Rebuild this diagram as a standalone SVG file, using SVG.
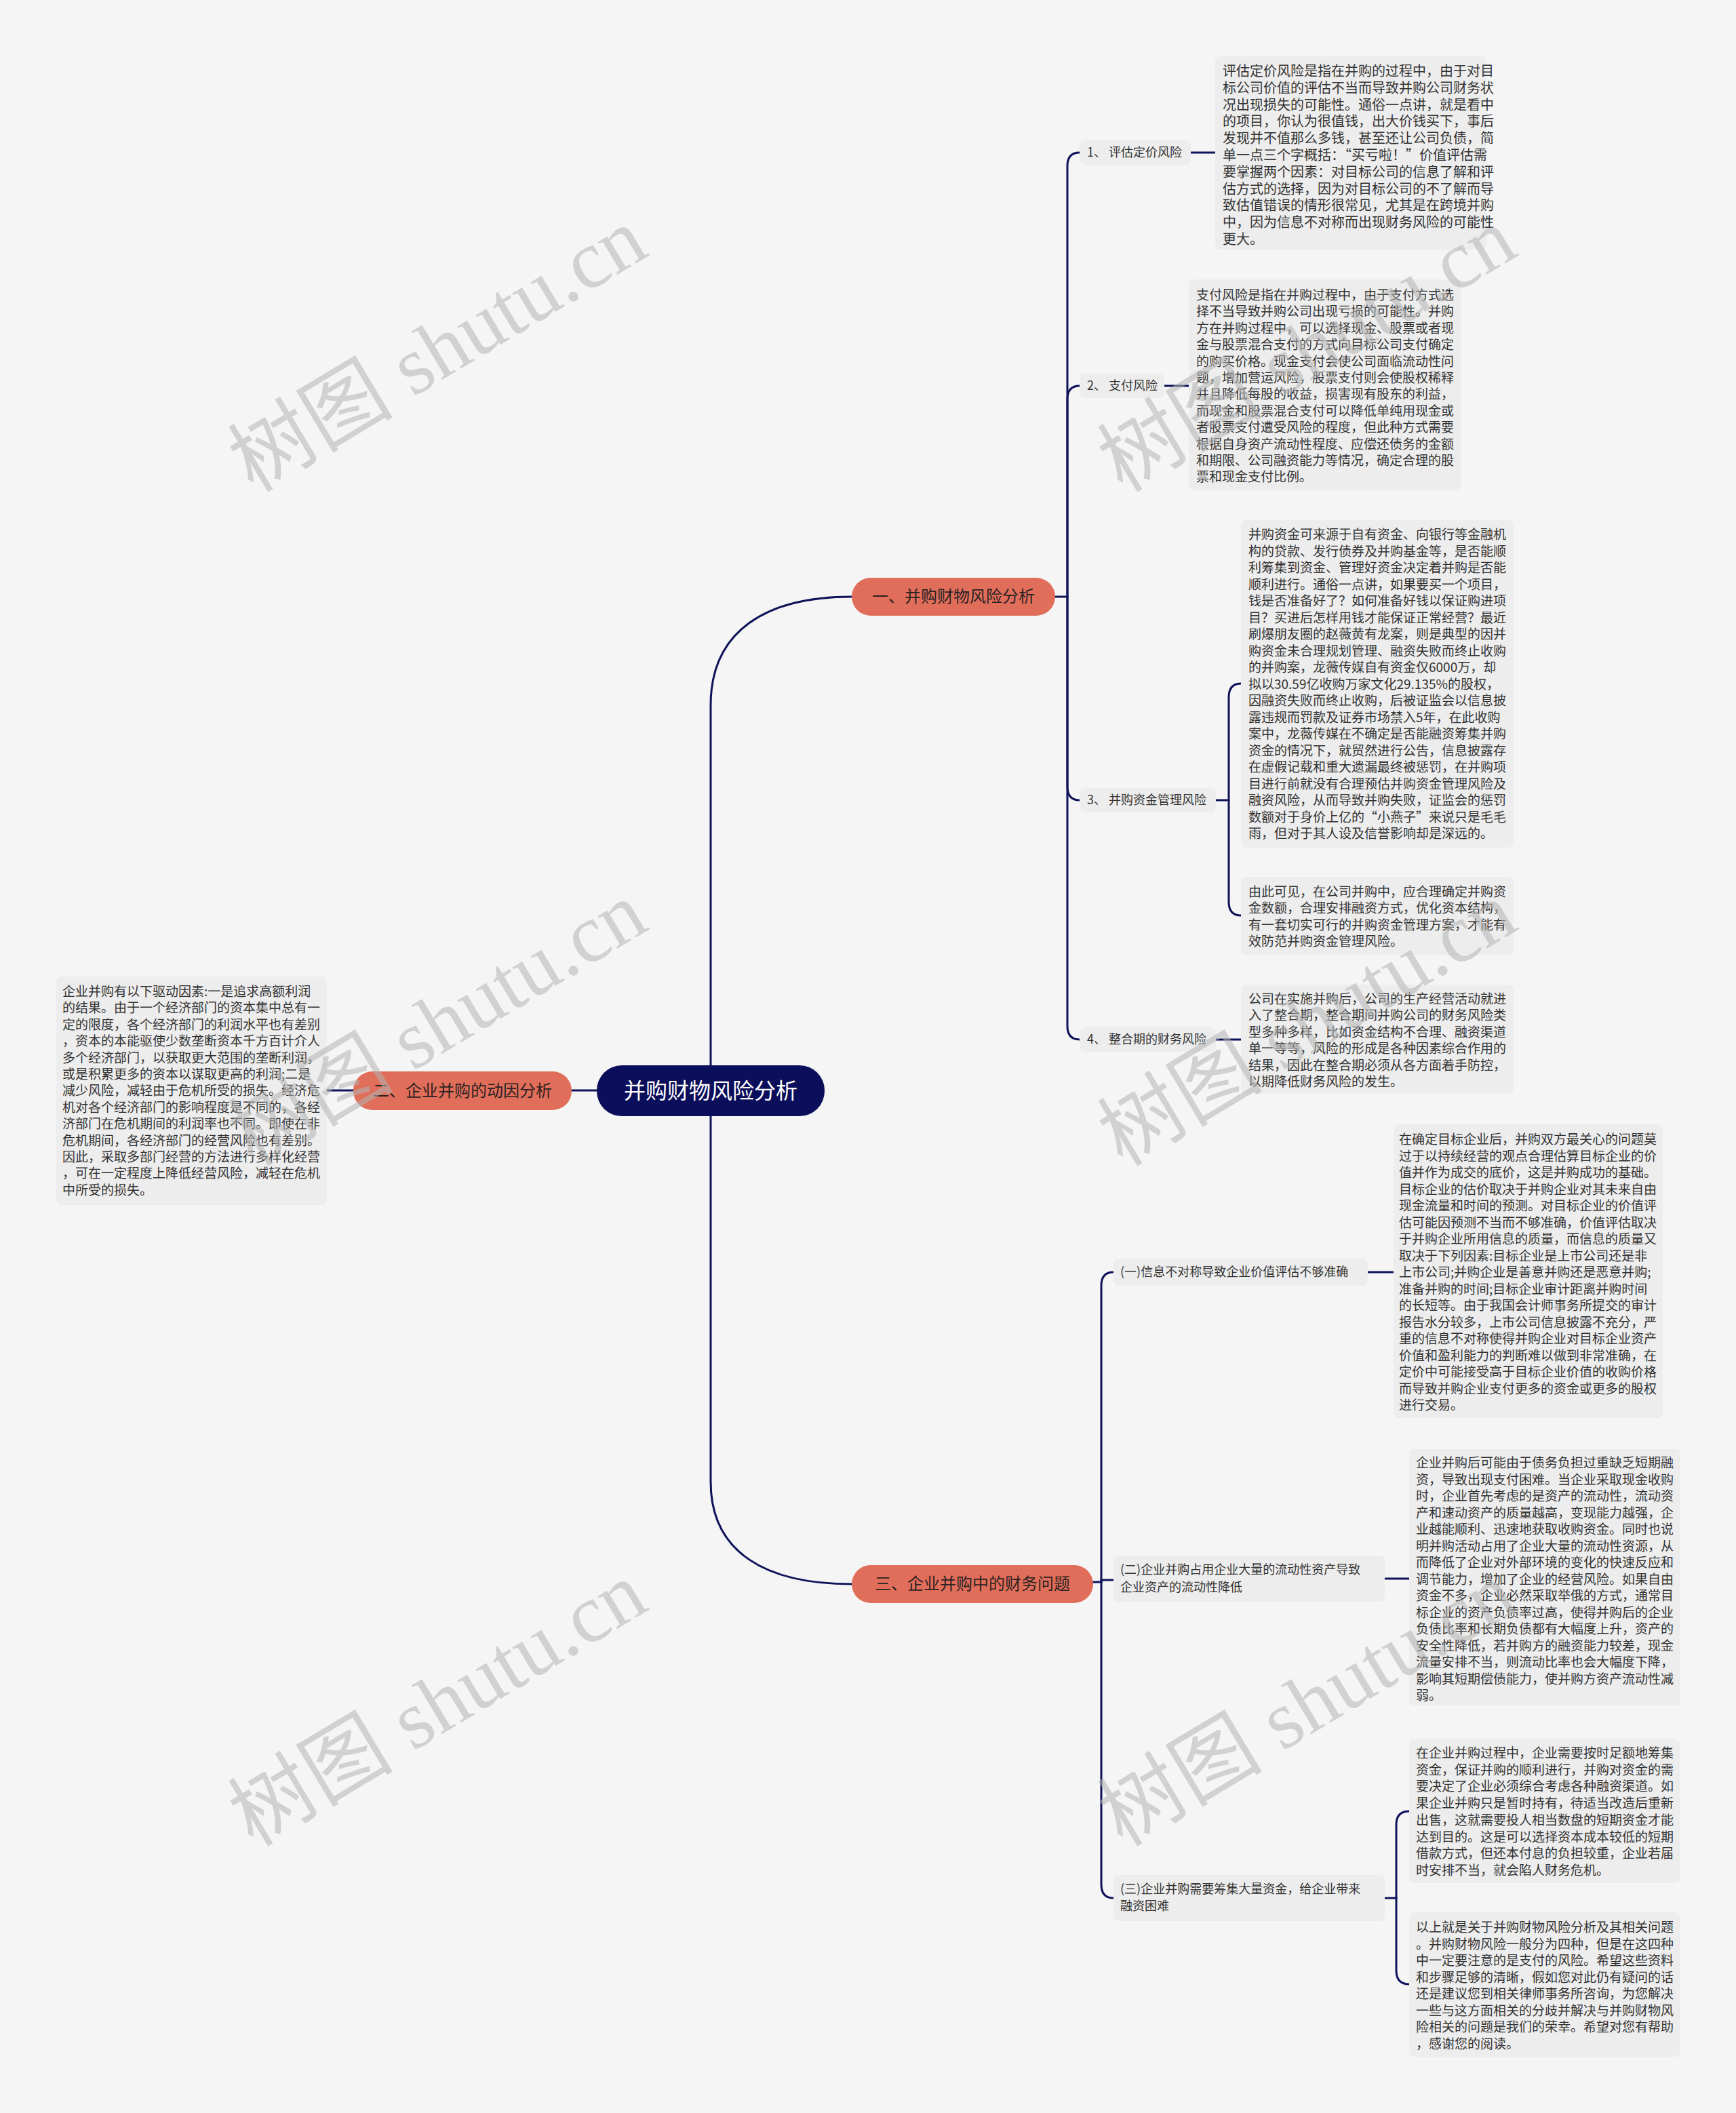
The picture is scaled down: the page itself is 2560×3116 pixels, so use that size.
<svg xmlns="http://www.w3.org/2000/svg" width="2560" height="3116" viewBox="0 0 2560 3116">
<style>
.bg{fill:#f5f5f5}
.box{fill:#ededed}
.lbl{fill:#ededed}
.t{font-family:"Noto Sans CJK SC","Noto Sans",sans-serif;font-size:19px;fill:#333333}
.lt{font-family:"Noto Sans CJK SC","Noto Sans",sans-serif;font-size:18px;fill:#333333}
.n1{fill:#e06e5a}
.nt{font-family:"Noto Sans CJK SC","Noto Sans",sans-serif;font-size:24px;fill:#2b2222;text-anchor:middle}
.root{fill:#0b0e5a}
.rt{font-family:"Noto Sans CJK SC","Noto Sans",sans-serif;font-size:32px;fill:#ffffff;text-anchor:middle}
.c{fill:none;stroke:#0e1259;stroke-width:3;stroke-linecap:round}
.wm{font-family:"Liberation Serif","Noto Sans CJK SC",serif;font-size:122px;fill:#b4b4b4;opacity:0.55}
</style>
<rect class="bg" x="0" y="0" width="2560" height="3116"/>

<g id="connectors">
<path class="c" d="M1048 1571 L1048 1040 C1048 930 1130 880 1256 880"/>
<path class="c" d="M1048 1646 L1048 2185 C1048 2290 1130 2336 1256 2336"/>
<path class="c" d="M880 1608 L843 1608"/>
<path class="c" d="M521 1608 L482 1608"/>
<path class="c" d="M1556 880 L1574 880"/>
<path class="c" d="M1574 880 L1574 245 Q1574 225 1592 225"/>
<path class="c" d="M1574 880 L1574 589 Q1574 569 1592 569"/>
<path class="c" d="M1574 880 L1574 1160 Q1574 1180 1592 1180"/>
<path class="c" d="M1574 880 L1574 1513 Q1574 1533 1592 1533"/>
<path class="c" d="M1756 225 L1792 225"/>
<path class="c" d="M1717 569 L1753 569"/>
<path class="c" d="M1793 1180 L1812 1180"/>
<path class="c" d="M1812 1180 L1812 1028 Q1812 1008 1830 1008"/>
<path class="c" d="M1812 1180 L1812 1330 Q1812 1350 1830 1350"/>
<path class="c" d="M1793 1533 L1830 1533"/>
<path class="c" d="M1612 2333 L1624 2333"/>
<path class="c" d="M1624 2333 L1624 1896 Q1624 1876 1642 1876"/>
<path class="c" d="M1624 2333 L1624 2330 L1642 2330"/>
<path class="c" d="M1624 2333 L1624 2779 Q1624 2799 1642 2799"/>
<path class="c" d="M2017 1876 L2055 1876"/>
<path class="c" d="M2042 2328 L2078 2328"/>
<path class="c" d="M2042 2799 L2059 2799"/>
<path class="c" d="M2059 2799 L2059 2691 Q2059 2671 2078 2671"/>
<path class="c" d="M2059 2799 L2059 2906 Q2059 2926 2078 2926"/>
</g>

<g id="root">
<rect class="root" x="880" y="1571" width="336" height="75" rx="37"/>
<text class="rt" x="1048" y="1620">并购财物风险分析</text>
</g>

<g id="node-1">
<rect class="n1" x="1256" y="852" width="300" height="56" rx="28"/>
<text class="nt" x="1406" y="888">一、并购财物风险分析</text>
</g>
<g id="node-2">
<rect class="n1" x="521" y="1580" width="322" height="57" rx="28"/>
<text class="nt" x="682" y="1617">二、企业并购的动因分析</text>
</g>
<g id="node-3">
<rect class="n1" x="1256" y="2308" width="356" height="56" rx="28"/>
<text class="nt" x="1434" y="2344">三、企业并购中的财务问题</text>
</g>

<g id="label-1-1"><rect class="lbl" x="1592" y="207" width="164" height="36" rx="8"/><text class="lt" x="1603" y="231">1、 评估定价风险</text></g>
<g id="label-1-2"><rect class="lbl" x="1592" y="551" width="125" height="36" rx="8"/><text class="lt" x="1603" y="575">2、 支付风险</text></g>
<g id="label-1-3"><rect class="lbl" x="1592" y="1162" width="201" height="36" rx="8"/><text class="lt" x="1603" y="1186">3、 并购资金管理风险</text></g>
<g id="label-1-4"><rect class="lbl" x="1592" y="1515" width="201" height="36" rx="8"/><text class="lt" x="1603" y="1539">4、 整合期的财务风险</text></g>

<g id="label-3-1"><rect class="lbl" x="1642" y="1856" width="375" height="40" rx="8"/><text class="lt" x="1652" y="1882">(一)信息不对称导致企业价值评估不够准确</text></g>
<g id="label-3-2"><rect class="lbl" x="1642" y="2294" width="400" height="68" rx="8"/><text class="lt" x="1652" y="2321">(二)企业并购占用企业大量的流动性资产导致<tspan x="1652" dy="26">企业资产的流动性降低</tspan></text></g>
<g id="label-3-3"><rect class="lbl" x="1642" y="2765" width="400" height="68" rx="8"/><text class="lt" x="1652" y="2792">(三)企业并购需要筹集大量资金，给企业带来<tspan x="1652" dy="25">融资困难</tspan></text></g>

<g id="text-A"><rect class="box" x="1792" y="83" width="400" height="285" rx="8"/>
<text class="t" x="1803" y="112" style="font-size:20px">评估定价风险是指在并购的过程中，由于对目<tspan x="1803" dy="24.8">标公司价值的评估不当而导致并购公司财务状</tspan><tspan x="1803" dy="24.8">况出现损失的可能性。通俗一点讲，就是看中</tspan><tspan x="1803" dy="24.8">的项目，你认为很值钱，出大价钱买下，事后</tspan><tspan x="1803" dy="24.8">发现并不值那么多钱，甚至还让公司负债，简</tspan><tspan x="1803" dy="24.8">单一点三个字概括：“买亏啦！”价值评估需</tspan><tspan x="1803" dy="24.8">要掌握两个因素：对目标公司的信息了解和评</tspan><tspan x="1803" dy="24.8">估方式的选择，因为对目标公司的不了解而导</tspan><tspan x="1803" dy="24.8">致估值错误的情形很常见，尤其是在跨境并购</tspan><tspan x="1803" dy="24.8">中，因为信息不对称而出现财务风险的可能性</tspan><tspan x="1803" dy="24.8">更大。</tspan></text></g>

<g id="text-B"><rect class="box" x="1753" y="412" width="401" height="311" rx="8"/>
<text class="t" x="1764" y="442">支付风险是指在并购过程中，由于支付方式选<tspan x="1764" dy="24.4">择不当导致并购公司出现亏损的可能性。并购</tspan><tspan x="1764" dy="24.4">方在并购过程中，可以选择现金、股票或者现</tspan><tspan x="1764" dy="24.4">金与股票混合支付的方式向目标公司支付确定</tspan><tspan x="1764" dy="24.4">的购买价格。现金支付会使公司面临流动性问</tspan><tspan x="1764" dy="24.4">题，增加营运风险，股票支付则会使股权稀释</tspan><tspan x="1764" dy="24.4">并且降低每股的收益，损害现有股东的利益，</tspan><tspan x="1764" dy="24.4">而现金和股票混合支付可以降低单纯用现金或</tspan><tspan x="1764" dy="24.4">者股票支付遭受风险的程度，但此种方式需要</tspan><tspan x="1764" dy="24.4">根据自身资产流动性程度、应偿还债务的金额</tspan><tspan x="1764" dy="24.4">和期限、公司融资能力等情况，确定合理的股</tspan><tspan x="1764" dy="24.4">票和现金支付比例。</tspan></text></g>

<g id="text-C"><rect class="box" x="1830" y="767" width="402" height="483" rx="8"/>
<text class="t" x="1841" y="795">并购资金可来源于自有资金、向银行等金融机<tspan x="1841" dy="24.5">构的贷款、发行债券及并购基金等，是否能顺</tspan><tspan x="1841" dy="24.5">利筹集到资金、管理好资金决定着并购是否能</tspan><tspan x="1841" dy="24.5">顺利进行。通俗一点讲，如果要买一个项目，</tspan><tspan x="1841" dy="24.5">钱是否准备好了？如何准备好钱以保证购进项</tspan><tspan x="1841" dy="24.5">目？买进后怎样用钱才能保证正常经营？最近</tspan><tspan x="1841" dy="24.5">刷爆朋友圈的赵薇黄有龙案，则是典型的因并</tspan><tspan x="1841" dy="24.5">购资金未合理规划管理、融资失败而终止收购</tspan><tspan x="1841" dy="24.5">的并购案，龙薇传媒自有资金仅6000万，却</tspan><tspan x="1841" dy="24.5">拟以30.59亿收购万家文化29.135%的股权，</tspan><tspan x="1841" dy="24.5">因融资失败而终止收购，后被证监会以信息披</tspan><tspan x="1841" dy="24.5">露违规而罚款及证券市场禁入5年，在此收购</tspan><tspan x="1841" dy="24.5">案中，龙薇传媒在不确定是否能融资筹集并购</tspan><tspan x="1841" dy="24.5">资金的情况下，就贸然进行公告，信息披露存</tspan><tspan x="1841" dy="24.5">在虚假记载和重大遗漏最终被惩罚，在并购项</tspan><tspan x="1841" dy="24.5">目进行前就没有合理预估并购资金管理风险及</tspan><tspan x="1841" dy="24.5">融资风险，从而导致并购失败，证监会的惩罚</tspan><tspan x="1841" dy="24.5">数额对于身价上亿的“小燕子”来说只是毛毛</tspan><tspan x="1841" dy="24.5">雨，但对于其人设及信誉影响却是深远的。</tspan></text></g>

<g id="text-D"><rect class="box" x="1830" y="1293" width="402" height="115" rx="8"/>
<text class="t" x="1841" y="1322">由此可见，在公司并购中，应合理确定并购资<tspan x="1841" dy="24.4">金数额，合理安排融资方式，优化资本结构，</tspan><tspan x="1841" dy="24.4">有一套切实可行的并购资金管理方案，才能有</tspan><tspan x="1841" dy="24.4">效防范并购资金管理风险。</tspan></text></g>

<g id="text-E"><rect class="box" x="1830" y="1452" width="402" height="161" rx="8"/>
<text class="t" x="1841" y="1480">公司在实施并购后，公司的生产经营活动就进<tspan x="1841" dy="24.4">入了整合期，整合期间并购公司的财务风险类</tspan><tspan x="1841" dy="24.4">型多种多样，比如资金结构不合理、融资渠道</tspan><tspan x="1841" dy="24.4">单一等等，风险的形成是各种因素综合作用的</tspan><tspan x="1841" dy="24.4">结果，因此在整合期必须从各方面着手防控，</tspan><tspan x="1841" dy="24.4">以期降低财务风险的发生。</tspan></text></g>

<g id="text-F"><rect class="box" x="83" y="1440" width="399" height="337" rx="8"/>
<text class="t" x="92" y="1469">企业并购有以下驱动因素:一是追求高额利润<tspan x="92" dy="24.4">的结果。由于一个经济部门的资本集中总有一</tspan><tspan x="92" dy="24.4">定的限度，各个经济部门的利润水平也有差别</tspan><tspan x="92" dy="24.4">，资本的本能驱使少数垄断资本千方百计介人</tspan><tspan x="92" dy="24.4">多个经济部门，以获取更大范围的垄断利润，</tspan><tspan x="92" dy="24.4">或是积累更多的资本以谋取更高的利润;二是</tspan><tspan x="92" dy="24.4">减少风险，减轻由于危机所受的损失。经济危</tspan><tspan x="92" dy="24.4">机对各个经济部门的影响程度是不同的，各经</tspan><tspan x="92" dy="24.4">济部门在危机期间的利润率也不同。即使在非</tspan><tspan x="92" dy="24.4">危机期间，各经济部门的经营风险也有差别。</tspan><tspan x="92" dy="24.4">因此，采取多部门经营的方法进行多样化经营</tspan><tspan x="92" dy="24.4">，可在一定程度上降低经营风险，减轻在危机</tspan><tspan x="92" dy="24.4">中所受的损失。</tspan></text></g>

<g id="text-G"><rect class="box" x="2055" y="1658" width="397" height="433" rx="8"/>
<text class="t" x="2063" y="1687">在确定目标企业后，并购双方最关心的问题莫<tspan x="2063" dy="24.5">过于以持续经营的观点合理估算目标企业的价</tspan><tspan x="2063" dy="24.5">值并作为成交的底价，这是并购成功的基础。</tspan><tspan x="2063" dy="24.5">目标企业的估价取决于并购企业对其未来自由</tspan><tspan x="2063" dy="24.5">现金流量和时间的预测。对目标企业的价值评</tspan><tspan x="2063" dy="24.5">估可能因预测不当而不够准确，价值评估取决</tspan><tspan x="2063" dy="24.5">于并购企业所用信息的质量，而信息的质量又</tspan><tspan x="2063" dy="24.5">取决于下列因素:目标企业是上市公司还是非</tspan><tspan x="2063" dy="24.5">上市公司;并购企业是善意并购还是恶意并购;</tspan><tspan x="2063" dy="24.5">准备并购的时间;目标企业审计距离并购时间</tspan><tspan x="2063" dy="24.5">的长短等。由于我国会计师事务所提交的审计</tspan><tspan x="2063" dy="24.5">报告水分较多，上市公司信息披露不充分，严</tspan><tspan x="2063" dy="24.5">重的信息不对称使得并购企业对目标企业资产</tspan><tspan x="2063" dy="24.5">价值和盈利能力的判断难以做到非常准确，在</tspan><tspan x="2063" dy="24.5">定价中可能接受高于目标企业价值的收购价格</tspan><tspan x="2063" dy="24.5">而导致并购企业支付更多的资金或更多的股权</tspan><tspan x="2063" dy="24.5">进行交易。</tspan></text></g>

<g id="text-H"><rect class="box" x="2078" y="2137" width="400" height="378" rx="8"/>
<text class="t" x="2088" y="2164">企业并购后可能由于债务负担过重缺乏短期融<tspan x="2088" dy="24.5">资，导致出现支付困难。当企业采取现金收购</tspan><tspan x="2088" dy="24.5">时，企业首先考虑的是资产的流动性，流动资</tspan><tspan x="2088" dy="24.5">产和速动资产的质量越高，变现能力越强，企</tspan><tspan x="2088" dy="24.5">业越能顺利、迅速地获取收购资金。同时也说</tspan><tspan x="2088" dy="24.5">明并购活动占用了企业大量的流动性资源，从</tspan><tspan x="2088" dy="24.5">而降低了企业对外部环境的变化的快速反应和</tspan><tspan x="2088" dy="24.5">调节能力，增加了企业的经营风险。如果自由</tspan><tspan x="2088" dy="24.5">资金不多，企业必然采取举俄的方式，通常目</tspan><tspan x="2088" dy="24.5">标企业的资产负债率过高，使得并购后的企业</tspan><tspan x="2088" dy="24.5">负债比率和长期负债都有大幅度上升，资产的</tspan><tspan x="2088" dy="24.5">安全性降低，若并购方的融资能力较差，现金</tspan><tspan x="2088" dy="24.5">流量安排不当，则流动比率也会大幅度下降，</tspan><tspan x="2088" dy="24.5">影响其短期偿债能力，使并购方资产流动性减</tspan><tspan x="2088" dy="24.5">弱。</tspan></text></g>

<g id="text-I"><rect class="box" x="2078" y="2565" width="400" height="212" rx="8"/>
<text class="t" x="2088" y="2592">在企业并购过程中，企业需要按时足额地筹集<tspan x="2088" dy="24.7">资金，保证并购的顺利进行，并购对资金的需</tspan><tspan x="2088" dy="24.7">要决定了企业必须综合考虑各种融资渠道。如</tspan><tspan x="2088" dy="24.7">果企业并购只是暂时持有，待适当改造后重新</tspan><tspan x="2088" dy="24.7">出售，这就需要投人相当数盘的短期资金才能</tspan><tspan x="2088" dy="24.7">达到目的。这是可以选择资本成本较低的短期</tspan><tspan x="2088" dy="24.7">借款方式，但还本付息的负担较重，企业若届</tspan><tspan x="2088" dy="24.7">时安排不当，就会陷人财务危机。</tspan></text></g>

<g id="text-J"><rect class="box" x="2078" y="2820" width="400" height="213" rx="8"/>
<text class="t" x="2088" y="2849">以上就是关于并购财物风险分析及其相关问题<tspan x="2088" dy="24.5">。并购财物风险一般分为四种，但是在这四种</tspan><tspan x="2088" dy="24.5">中一定要注意的是支付的风险。希望这些资料</tspan><tspan x="2088" dy="24.5">和步骤足够的清晰，假如您对此仍有疑问的话</tspan><tspan x="2088" dy="24.5">还是建议您到相关律师事务所咨询，为您解决</tspan><tspan x="2088" dy="24.5">一些与这方面相关的分歧并解决与并购财物风</tspan><tspan x="2088" dy="24.5">险相关的问题是我们的荣幸。希望对您有帮助</tspan><tspan x="2088" dy="24.5">，感谢您的阅读。</tspan></text></g>

<g id="watermarks">
<text class="wm" x="646" y="517" text-anchor="middle" transform="rotate(-31 646 517)" dy="40">树图 shutu.cn</text>
<text class="wm" x="1928" y="517" text-anchor="middle" transform="rotate(-31 1928 517)" dy="40">树图 shutu.cn</text>
<text class="wm" x="646" y="1511" text-anchor="middle" transform="rotate(-31 646 1511)" dy="40">树图 shutu.cn</text>
<text class="wm" x="1928" y="1511" text-anchor="middle" transform="rotate(-31 1928 1511)" dy="40">树图 shutu.cn</text>
<text class="wm" x="646" y="2514" text-anchor="middle" transform="rotate(-31 646 2514)" dy="40">树图 shutu.cn</text>
<text class="wm" x="1928" y="2514" text-anchor="middle" transform="rotate(-31 1928 2514)" dy="40">树图 shutu.cn</text>
</g>
</svg>
